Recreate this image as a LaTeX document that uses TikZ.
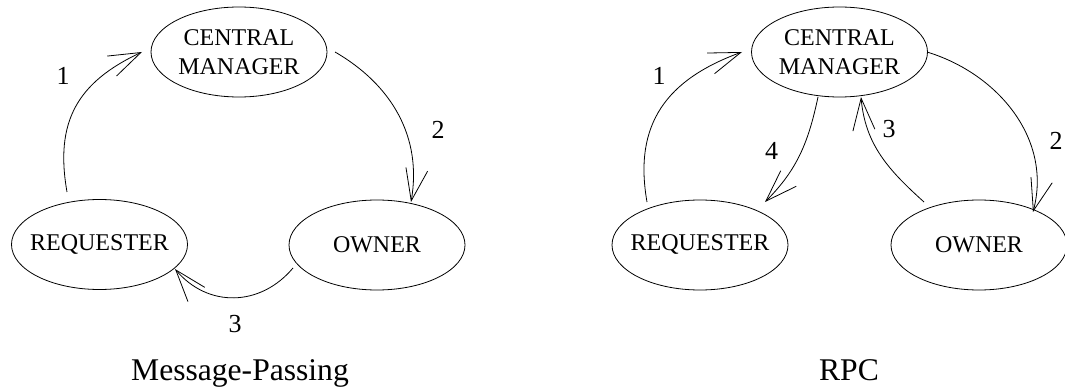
\documentclass[tikz,border=0pt]{standalone}
\usepackage{fontspec}
\setmainfont{Liberation Serif}
\usetikzlibrary{shapes.geometric,arrows.meta}
\begin{document}
\begin{tikzpicture}[x=1pt,y=1pt,
  ell/.style={draw,ellipse,line width=0.8pt,minimum width=176pt,minimum height=90pt,inner sep=0pt},
  etext/.style={font=\fontsize{24}{29}\selectfont,align=center,inner sep=0pt},
  arr/.style={line width=0.8pt,-{Straight Barb[length=32pt,width=22pt,line width=0.8pt]}},
  num/.style={font=\fontsize{26}{30}\selectfont,anchor=base,inner sep=0pt},
  ttl/.style={font=\fontsize{31.6}{36}\selectfont,anchor=base,inner sep=0pt}]
\useasboundingbox (0,0) rectangle (1065,391);
% ---- Message-Passing ----
\node[ell] (cm1) at (239,339) {};
\node[etext] (cm1t) at (cm1) {CENTRAL\\MANAGER};
\node[ell] (req1) at (99.5,146.5) {};
\node[etext] (req1t) at (req1) {REQUESTER};
\node[ell] (own1) at (377,146) {};
\node[etext] (own1t) at (own1) {OWNER};
\draw[arr] ([shift={(-32.5,52.5)}]req1.center) to[out=100,in=205,looseness=1.15] ([shift={(-97,0)}]cm1.center);
\draw[arr] ([shift={(96,0)}]cm1.center) to[out=-30,in=80] ([shift={(34,43)}]own1.center);
\draw[arr] ([shift={(-84,-23)}]own1.center) to[out=230,in=-50,looseness=1.1] ([shift={(75.5,-24.5)}]req1.center);
\node[num] (l1a) at (63,306) {1};
\node[num] (l1b) at (438,252) {2};
\node[num] (l1c) at (235,59) {3};
\node[ttl] (t1) at (240,11) {Message-Passing};
% ---- RPC ----
\node[ell] (cm2) at (839.5,339) {};
\node[etext] (cm2t) at (cm2) {CENTRAL\\MANAGER};
\node[ell] (req2) at (700,146) {};
\node[etext] (req2t) at (req2) {REQUESTER};
\node[ell] (own2) at (979,146) {};
\node[etext] (own2t) at (own2) {OWNER};
\draw[arr] ([shift={(-53,43)}]req2.center) to[out=100,in=200,looseness=1.15] ([shift={(-97.5,0)}]cm2.center);
\draw[arr] ([shift={(87.5,0)}]cm2.center) to[out=-17,in=75] ([shift={(54,33)}]own2.center);
\draw[arr] ([shift={(-21.5,-45)}]cm2.center) to[out=258,in=45] ([shift={(65,43)}]req2.center);
\draw[arr] ([shift={(-55,43)}]own2.center) to[out=138,in=275] ([shift={(21.5,-45)}]cm2.center);
\node[num] (l2a) at (659,306) {1};
\node[num] (l2b) at (1056,241) {2};
\node[num] (l2c) at (889,253) {3};
\node[num] (l2d) at (771.5,231) {4};
\node[ttl] (t2) at (849,11) {RPC};
\end{tikzpicture}
\end{document}
